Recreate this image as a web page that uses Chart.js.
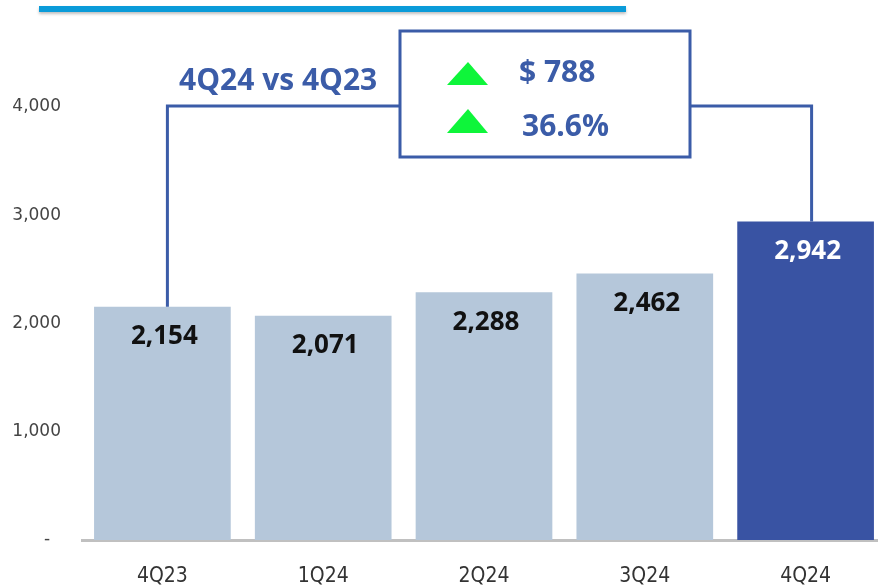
<!DOCTYPE html>
<html>
<head>
<meta charset="utf-8">
<script src="https://cdn.jsdelivr.net/npm/chart.js@4"></script>
<style>
  html, body { margin: 0; padding: 0; background: #fff; overflow: hidden; }
  #wrap { width: 886px; height: 587px; position: relative; }
</style>
</head>
<body>
<div id="wrap"><canvas id="chart"></canvas></div>
<script>
// Data
const quarters = ['4Q23', '1Q24', '2Q24', '3Q24', '4Q24'];
const values = [2154, 2071, 2288, 2462, 2942];
const yTicks = [0, 1000, 2000, 3000, 4000];
const changeAmount = '$ 788';
const changePct = '36.6%';
const compareLabel = '4Q24 vs 4Q23';

const lightBar = '#b5c7da';
const darkBar = '#3953a3';
const accent = '#3b5ca8';

// Value labels inside the bars, near the top
const valueLabels = {
    id: 'valueLabels',
    afterDatasetsDraw(chart) {
        const ctx = chart.ctx;
        const bars = chart.getDatasetMeta(0).data;
        ctx.save();
        ctx.font = 'bold 26px "Open Sans"';
        ctx.textAlign = 'center';
        ctx.textBaseline = 'middle';
        bars.forEach((bar, i) => {
            ctx.fillStyle = i === bars.length - 1 ? '#ffffff' : '#111111';
            ctx.fillText(values[i].toLocaleString('en-US'), bar.x + 2, bar.y + 30);
        });
        ctx.restore();
    }
};

// Comparison bracket, callout box and the top rule
const callout = {
    id: 'callout',
    afterDraw(chart) {
        const ctx = chart.ctx;
        const bars = chart.getDatasetMeta(0).data;
        const first = bars[0];
        const last = bars[bars.length - 1];
        const lineY = 106;
        const box = { x: 400, y: 31, w: 290, h: 126 };

        ctx.save();

        // top rule
        ctx.shadowColor = 'rgba(0,0,0,0.25)';
        ctx.shadowBlur = 3;
        ctx.shadowOffsetY = 2;
        ctx.fillStyle = '#0a9bd9';
        ctx.fillRect(39, 6, 587, 6);
        ctx.shadowColor = 'transparent';

        // bracket
        ctx.strokeStyle = accent;
        ctx.lineWidth = 3;
        ctx.beginPath();
        ctx.moveTo(first.x + 5, first.y);
        ctx.lineTo(first.x + 5, lineY);
        ctx.lineTo(box.x, lineY);
        ctx.moveTo(box.x + box.w, lineY);
        ctx.lineTo(last.x + 6, lineY);
        ctx.lineTo(last.x + 6, last.y);
        ctx.stroke();

        // box
        ctx.fillStyle = '#ffffff';
        ctx.fillRect(box.x, box.y, box.w, box.h);
        ctx.strokeRect(box.x, box.y, box.w, box.h);

        // arrows
        ctx.fillStyle = '#0ef53a';
        [[62, 85], [109, 133]].forEach(([top, base]) => {
            ctx.beginPath();
            ctx.moveTo(468, top);
            ctx.lineTo(488, base);
            ctx.lineTo(447, base);
            ctx.closePath();
            ctx.fill();
        });

        // texts
        ctx.fillStyle = accent;
        ctx.textAlign = 'left';
        ctx.textBaseline = 'middle';
        ctx.font = 'bold 30px "Open Sans"';
        ctx.fillText(compareLabel, 179, 81);
        ctx.fillText(changeAmount, 519, 73);
        ctx.fillText(changePct, 522, 127);

        ctx.restore();
    }
};

new Chart(document.getElementById('chart'), {
    type: 'bar',
    data: {
        labels: quarters,
        datasets: [{
            data: values,
            backgroundColor: values.map((v, i) => i === values.length - 1 ? darkBar : lightBar),
            borderWidth: 0,
            categoryPercentage: 1,
            barPercentage: 0.85
        }]
    },
    options: {
        responsive: true,
        maintainAspectRatio: false,
        animation: false,
        layout: { padding: { top: 8, right: 0, bottom: 0, left: 0 } },
        plugins: {
            legend: { display: false },
            tooltip: { enabled: false }
        },
        scales: {
            x: {
                grid: { display: false, drawTicks: false },
                border: { display: true, color: '#c0c0c0', width: 3 },
                afterFit(scale) { scale.height = 47; },
                ticks: {
                    padding: 24,
                    color: '#333',
                    font: { family: '"Liberation Sans Narrow", "DejaVu Sans Condensed", sans-serif', size: 21 }
                }
            },
            y: {
                min: 0,
                max: 4700,
                grid: { display: false, drawTicks: false },
                border: { display: false },
                afterFit(scale) { scale.width = 82; },
                afterBuildTicks(scale) {
                    scale.ticks = yTicks.map(v => ({ value: v }));
                },
                ticks: {
                    padding: 21,
                    color: '#444',
                    font: { family: '"DejaVu Sans"', size: 17 },
                    callback: v => v === 0 ? '-  ' : v.toLocaleString('en-US')
                }
            }
        }
    },
    plugins: [valueLabels, callout]
});
</script>
</body>
</html>
